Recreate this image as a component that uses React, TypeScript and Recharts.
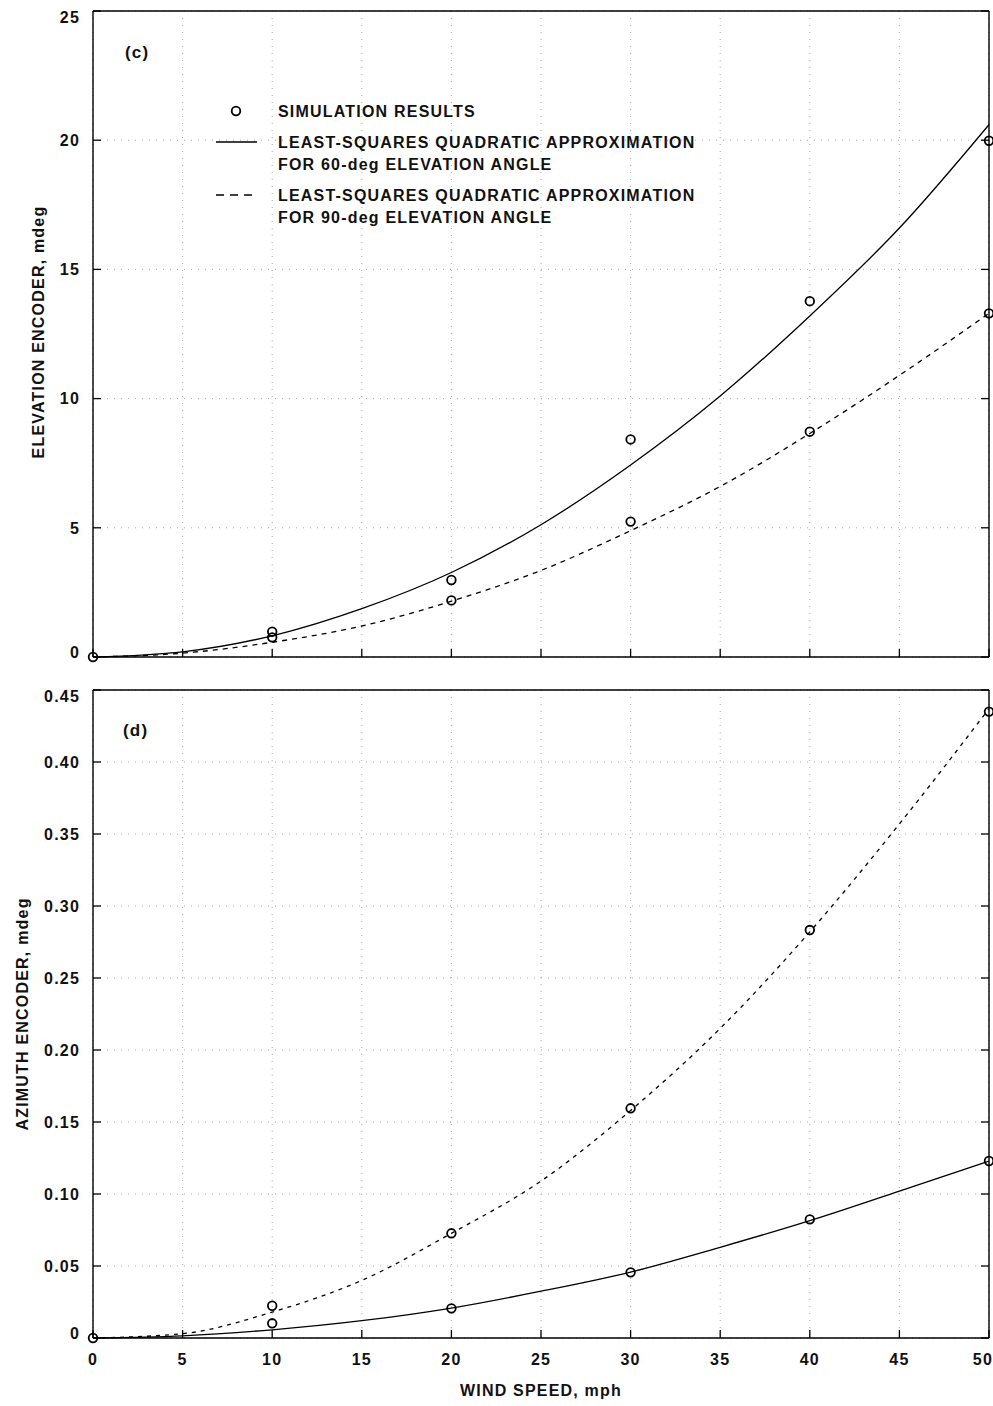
import React from 'react';
import { ComposedChart, Line, Scatter, XAxis, YAxis, CartesianGrid, Customized } from 'recharts';

// ---------- data ----------
const windSpeeds = [0, 5, 10, 15, 20, 25, 30, 35, 40, 45, 50];

// panel (c) elevation encoder, mdeg
const elevFit60 = [0, 0.2, 0.82, 1.87, 3.27, 5.12, 7.43, 10.1, 13.2, 16.6, 20.6];
const elevFit90 = [0, 0.15, 0.57, 1.2, 2.16, 3.35, 4.89, 6.6, 8.65, 10.9, 13.3];
const elevSimSpeeds = [0, 10, 10, 20, 20, 30, 30, 40, 40, 50, 50];
const elevSimValues = [0, 0.98, 0.76, 2.98, 2.19, 8.42, 5.24, 13.77, 8.72, 19.98, 13.3];

// panel (d) azimuth encoder, mdeg
const azFit60 = [0, 0.0015, 0.0057, 0.012, 0.0208, 0.0325, 0.0458, 0.063, 0.0815, 0.102, 0.1228];
const azFit90 = [0, 0.003, 0.018, 0.04, 0.0727, 0.109, 0.158, 0.215, 0.282, 0.357, 0.437];
const azSimSpeeds = [0, 10, 10, 20, 20, 30, 30, 40, 40, 50, 50];
const azSimValues = [0, 0.0224, 0.0102, 0.0727, 0.0206, 0.1595, 0.0456, 0.2833, 0.0824, 0.435, 0.1229];

// ticks
const xTicks = [0, 5, 10, 15, 20, 25, 30, 35, 40, 45, 50];
const elevTicks = [0, 5, 10, 15, 20, 25];
const azTicks = [0, 0.05, 0.1, 0.15, 0.2, 0.25, 0.3, 0.35, 0.4, 0.45];

// ---------- helpers ----------
const pairs = (xs: number[], ys: number[]) => xs.map((x, i) => ({ x, y: ys[i] }));

const FONT = '"Liberation Sans", Arial, Helvetica, sans-serif';
const textStyle: React.CSSProperties = {
  fontFamily: FONT,
  fontSize: 16,
  fontWeight: 700,
  letterSpacing: 1.2,
  fill: '#111',
};
const INK = '#000';
const TICK = 8;

const makeLeftTick = (fmt: (v: number) => string, min: number, max: number) => (props: any) => {
  const { x, y, payload } = props;
  const v = payload.value;
  const dy = v === max ? 6 : v === min ? -5 : 0;
  return (
    <g>
      <line x1={x + 13} x2={x + 13 + TICK} y1={y} y2={y} stroke={INK} strokeWidth={1.3} />
      <text x={x} y={y + dy} dy="0.36em" textAnchor="end" style={textStyle}>
        {fmt(v)}
      </text>
    </g>
  );
};
const RightTick = (props: any) => (
  <line x1={props.x} x2={props.x - TICK} y1={props.y} y2={props.y} stroke={INK} strokeWidth={1.3} />
);
const TopTick = (props: any) => (
  <line x1={props.x} x2={props.x} y1={props.y} y2={props.y + TICK} stroke={INK} strokeWidth={1.3} />
);
const BottomTickPlain = (props: any) => (
  <line x1={props.x} x2={props.x} y1={props.y} y2={props.y - TICK} stroke={INK} strokeWidth={1.3} />
);
const BottomTickLabeled = (props: any) => {
  const { x, y, payload } = props;
  const last = payload.value === 50;
  return (
    <g>
      <line x1={x} x2={x} y1={y - 15} y2={y - 15 - TICK} stroke={INK} strokeWidth={1.3} />
      <text
        x={last ? x + 4 : x}
        y={y}
        dy="0.72em"
        textAnchor={last ? 'end' : 'middle'}
        style={textStyle}
      >
        {String(payload.value)}
      </text>
    </g>
  );
};

const Ring = (props: any) => {
  const { cx, cy } = props;
  if (cx == null || cy == null) return null;
  return <circle cx={cx} cy={cy} r={4.3} fill="none" stroke={INK} strokeWidth={1.8} />;
};

const W = 993;
const axisLine = { stroke: INK, strokeWidth: 1.4 };

const TopAnnotations = () => (
  <g>
    <text x={125} y={52} dy="0.36em" style={{ ...textStyle, fontSize: 17 }}>(c)</text>
    <circle cx={236} cy={111} r={4.3} fill="none" stroke={INK} strokeWidth={1.8} />
    <text x={278} y={111} dy="0.36em" style={textStyle}>SIMULATION RESULTS</text>
    <line x1={216} x2={257} y1={142} y2={142} stroke={INK} strokeWidth={1.3} />
    <text x={278} y={142} dy="0.36em" style={textStyle}>LEAST-SQUARES QUADRATIC APPROXIMATION</text>
    <text x={278} y={164} dy="0.36em" style={textStyle}>FOR 60-deg ELEVATION ANGLE</text>
    <line x1={216} x2={257} y1={195} y2={195} stroke={INK} strokeWidth={1.3} strokeDasharray="8 6" />
    <text x={278} y={195} dy="0.36em" style={textStyle}>LEAST-SQUARES QUADRATIC APPROXIMATION</text>
    <text x={278} y={217} dy="0.36em" style={textStyle}>FOR 90-deg ELEVATION ANGLE</text>
    <text
      x={38}
      y={332}
      dy="0.36em"
      textAnchor="middle"
      transform="rotate(-90 38 332)"
      style={textStyle}
    >
      ELEVATION ENCODER, mdeg
    </text>
  </g>
);

const BottomAnnotations = () => (
  <g>
    <text x={123} y={50} dy="0.36em" style={{ ...textStyle, fontSize: 17 }}>(d)</text>
    <text
      x={22}
      y={334}
      dy="0.36em"
      textAnchor="middle"
      transform="rotate(-90 22 334)"
      style={textStyle}
    >
      AZIMUTH ENCODER, mdeg
    </text>
    <text x={541} y={710} dy="0.36em" textAnchor="middle" style={textStyle}>
      WIND SPEED, mph
    </text>
  </g>
);

const ElevationChart = () => (
  <ComposedChart width={W} height={680} margin={{ top: 10, right: 3, bottom: 0, left: 0 }}>
    <CartesianGrid stroke="#a8a8a8" strokeDasharray="1 6" strokeWidth={1} />
    <XAxis
      dataKey="x"
      type="number"
      domain={[0, 50]}
      ticks={xTicks}
      interval={0}
      height={23}
      tickSize={0}
      tickMargin={0}
      tickLine={false}
      axisLine={axisLine}
      tick={BottomTickPlain}
    />
    <XAxis
      xAxisId="top"
      orientation="top"
      type="number"
      domain={[0, 50]}
      allowDataOverflow
      ticks={xTicks}
      interval={0}
      height={1}
      tickSize={0}
      tickMargin={0}
      tickLine={false}
      axisLine={axisLine}
      tick={TopTick}
    />
    <YAxis
      type="number"
      domain={[0, 25]}
      ticks={elevTicks}
      interval={0}
      width={93}
      tickSize={0}
      tickMargin={13}
      tickLine={false}
      axisLine={axisLine}
      tick={makeLeftTick((v) => String(v), 0, 25)}
    />
    <YAxis
      yAxisId="r"
      orientation="right"
      type="number"
      domain={[0, 25]}
      allowDataOverflow
      ticks={elevTicks}
      interval={0}
      width={1}
      tickSize={0}
      tickMargin={0}
      tickLine={false}
      axisLine={axisLine}
      tick={RightTick}
    />
    <Line
      data={pairs(windSpeeds, elevFit60)}
      dataKey="y"
      type="monotone"
      stroke={INK}
      strokeWidth={1.3}
      dot={false}
      activeDot={false}
      isAnimationActive={false}
    />
    <Line
      data={pairs(windSpeeds, elevFit90)}
      dataKey="y"
      type="monotone"
      stroke={INK}
      strokeWidth={1.3}
      strokeDasharray="5 5"
      dot={false}
      activeDot={false}
      isAnimationActive={false}
    />
    <Scatter
      data={pairs(elevSimSpeeds, elevSimValues)}
      dataKey="y"
      shape={Ring}
      isAnimationActive={false}
    />
    <Customized component={TopAnnotations} />
  </ComposedChart>
);

const AzimuthChart = () => (
  <ComposedChart width={W} height={726} margin={{ top: 9, right: 3, bottom: 0, left: 0 }}>
    <CartesianGrid stroke="#a8a8a8" strokeDasharray="1 6" strokeWidth={1} />
    <XAxis
      dataKey="x"
      type="number"
      domain={[0, 50]}
      ticks={xTicks}
      interval={0}
      height={68}
      tickSize={0}
      tickMargin={15}
      tickLine={false}
      axisLine={axisLine}
      tick={BottomTickLabeled}
    />
    <XAxis
      xAxisId="top"
      orientation="top"
      type="number"
      domain={[0, 50]}
      allowDataOverflow
      ticks={xTicks}
      interval={0}
      height={1}
      tickSize={0}
      tickMargin={0}
      tickLine={false}
      axisLine={axisLine}
      tick={TopTick}
    />
    <YAxis
      type="number"
      domain={[0, 0.45]}
      ticks={azTicks}
      interval={0}
      width={93}
      tickSize={0}
      tickMargin={13}
      tickLine={false}
      axisLine={axisLine}
      tick={makeLeftTick((v) => (v === 0 ? '0' : v.toFixed(2)), 0, 0.45)}
    />
    <YAxis
      yAxisId="r"
      orientation="right"
      type="number"
      domain={[0, 0.45]}
      allowDataOverflow
      ticks={azTicks}
      interval={0}
      width={1}
      tickSize={0}
      tickMargin={0}
      tickLine={false}
      axisLine={axisLine}
      tick={RightTick}
    />
    <Line
      data={pairs(windSpeeds, azFit60)}
      dataKey="y"
      type="monotone"
      stroke={INK}
      strokeWidth={1.3}
      dot={false}
      activeDot={false}
      isAnimationActive={false}
    />
    <Line
      data={pairs(windSpeeds, azFit90)}
      dataKey="y"
      type="monotone"
      stroke={INK}
      strokeWidth={1.3}
      strokeDasharray="4 5"
      dot={false}
      activeDot={false}
      isAnimationActive={false}
    />
    <Scatter
      data={pairs(azSimSpeeds, azSimValues)}
      dataKey="y"
      shape={Ring}
      isAnimationActive={false}
    />
    <Customized component={BottomAnnotations} />
  </ComposedChart>
);

export default function App() {
  return (
    <div
      style={{
        position: 'absolute',
        left: 0,
        top: 0,
        width: W,
        height: 1406,
        background: '#fff',
        overflow: 'hidden',
      }}
    >
      <div style={{ position: 'absolute', left: 0, top: 0 }}>
        <ElevationChart />
      </div>
      <div style={{ position: 'absolute', left: 0, top: 680 }}>
        <AzimuthChart />
      </div>
    </div>
  );
}
